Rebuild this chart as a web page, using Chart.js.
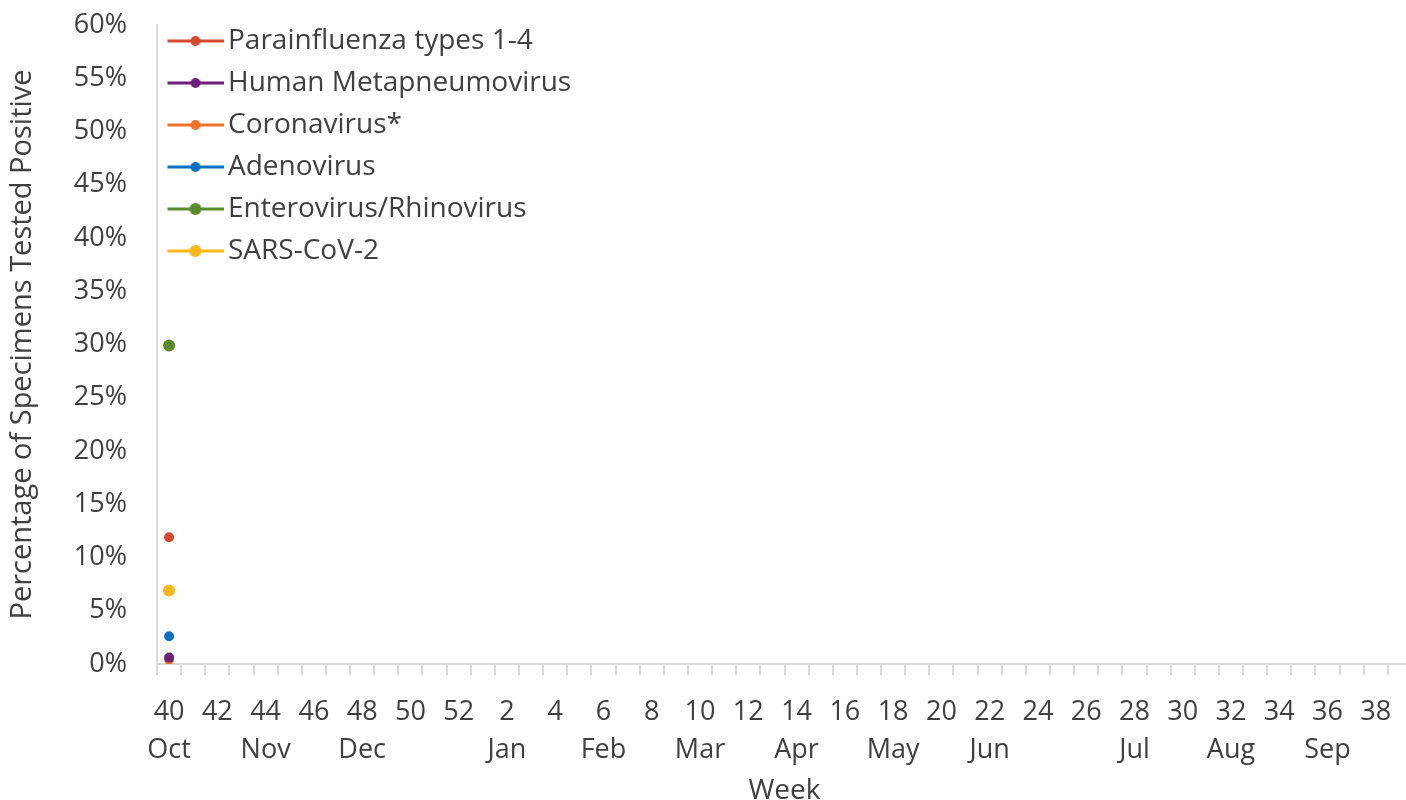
<!DOCTYPE html>
<html>
<head>
<meta charset="utf-8">
<script src="https://cdn.jsdelivr.net/npm/chart.js@4"></script>
<style>
    body { margin: 0; overflow: hidden; background: #fff; }
    #wrap { width: 1420px; height: 800px; }
</style>
</head>
<body>
<div id="wrap"><canvas id="virusChart" width="1420" height="800"></canvas></div>
<script>
// weeks of the season, 40..52 then 1..39
const weeks = ['40', '41', '42', '43', '44', '45', '46', '47', '48', '49', '50', '51', '52',
    '1', '2', '3', '4', '5', '6', '7', '8', '9', '10', '11', '12', '13', '14', '15', '16',
    '17', '18', '19', '20', '21', '22', '23', '24', '25', '26', '27', '28', '29', '30',
    '31', '32', '33', '34', '35', '36', '37', '38', '39'];
const months = ['Oct', '', '', '', 'Nov', '', '', '', 'Dec', '', '', '', '', '',
    'Jan', '', '', '', 'Feb', '', '', '', 'Mar', '', '', '', 'Apr', '', '', '', 'May', '', '', '',
    'Jun', '', '', '', '', '', 'Jul', '', '', '', 'Aug', '', '', '', 'Sep', '', '', ''];
const yTicks = [0, 5, 10, 15, 20, 25, 30, 35, 40, 45, 50, 55, 60];

// only week 40 reported so far
const parainfluenza = [11.9];
const metapneumo = [0.6];
const coronavirus = [0.4];
const adenovirus = [2.6];
const enteroRhino = [29.9];
const sarsCov2 = [6.9];

const textColor = '#404040';
const axisColor = '#d9d9d9';
const fontFamily = '"Open Sans", "Noto Sans", sans-serif';

// legend marker: short line with a dot, drawn a little right of centre
function makeMarker(color, r) {
    const c = document.createElement('canvas');
    c.width = 62;
    c.height = 14;
    const g = c.getContext('2d');
    g.strokeStyle = color;
    g.lineWidth = 3;
    g.beginPath();
    g.moveTo(6, 7);
    g.lineTo(62, 7);
    g.stroke();
    g.fillStyle = color;
    g.beginPath();
    g.arc(34, 7, r, 0, Math.PI * 2);
    g.fill();
    return c;
}

function series(label, data, color, r) {
    return {
        label: label,
        data: data,
        borderColor: color,
        backgroundColor: color,
        borderWidth: 3,
        pointRadius: r,
        pointBorderWidth: 0,
        pointBackgroundColor: color,
        marker: makeMarker(color, r),
    };
}

const datasets = [
    series('Parainfluenza types 1-4', parainfluenza, '#d5482b', 5),
    series('Human Metapneumovirus', metapneumo, '#6d1f7e', 5),
    series('Coronavirus*', coronavirus, '#ee7125', 5),
    series('Adenovirus', adenovirus, '#0a70c2', 5),
    series('Enterovirus/Rhinovirus', enteroRhino, '#5b8a2d', 6),
    series('SARS-CoV-2', sarsCov2, '#fdb71b', 6),
];

// pull the legend a bit higher inside the plot area
const legendShift = {
    id: 'legendShift',
    afterLayout(chart) {
        if (chart.legend) chart.legend.top = chart.chartArea.top - 12;
    }
};

const ctx = document.getElementById('virusChart').getContext('2d');
new Chart(ctx, {
    type: 'line',
    data: {
        labels: weeks.map((w, i) => [w, months[i]]),
        datasets: datasets,
    },
    plugins: [legendShift],
    options: {
        responsive: false,
        animation: false,
        layout: { padding: { top: 25, right: 8, left: 0, bottom: 0 } },
        plugins: {
            tooltip: { enabled: false },
            legend: {
                position: 'chartArea',
                align: 'start',
                labels: {
                    usePointStyle: true,
                    pointStyleWidth: 43,
                    padding: 14,
                    color: textColor,
                    font: { family: fontFamily, size: 28 },
                    generateLabels(chart) {
                        const items = Chart.defaults.plugins.legend.labels.generateLabels(chart);
                        return items.map(it => {
                            it.pointStyle = chart.data.datasets[it.datasetIndex].marker;
                            return it;
                        });
                    },
                },
            },
        },
        scales: {
            x: {
                offset: true,
                grid: {
                    offset: true,
                    drawOnChartArea: false,
                    drawTicks: true,
                    tickLength: 11,
                    color: axisColor,
                    lineWidth: 2,
                },
                border: { color: axisColor, width: 2 },
                ticks: {
                    autoSkip: false,
                    maxRotation: 0,
                    padding: 18,
                    color: textColor,
                    font: { family: fontFamily, size: 27, lineHeight: 1.41 },
                    callback: function (value, index) {
                        return index % 2 === 0 ? this.getLabelForValue(value) : '';
                    },
                },
                title: {
                    display: true,
                    text: 'Week',
                    color: textColor,
                    font: { family: fontFamily, size: 28, lineHeight: 0.65 },
                    padding: { top: 0, bottom: 0 },
                },
                afterFit(scale) { scale.height = 136; },
            },
            y: {
                min: 0,
                max: 60,
                grid: {
                    drawOnChartArea: false,
                    drawTicks: true,
                    tickLength: 30,
                    tickColor: 'rgba(0,0,0,0)',
                },
                border: { color: axisColor, width: 2 },
                afterBuildTicks(scale) {
                    scale.ticks = yTicks.map(v => ({ value: v }));
                },
                ticks: {
                    padding: 0,
                    color: textColor,
                    font: { family: fontFamily, size: 27 },
                    callback: v => v + '%',
                },
                title: {
                    display: true,
                    text: 'Percentage of Specimens Tested Positive',
                    color: textColor,
                    font: { family: fontFamily, size: 29 },
                    padding: { top: 5, bottom: 0 },
                },
                afterFit(scale) { scale.width = 157; },
            },
        },
    },
});
</script>
</body>
</html>
